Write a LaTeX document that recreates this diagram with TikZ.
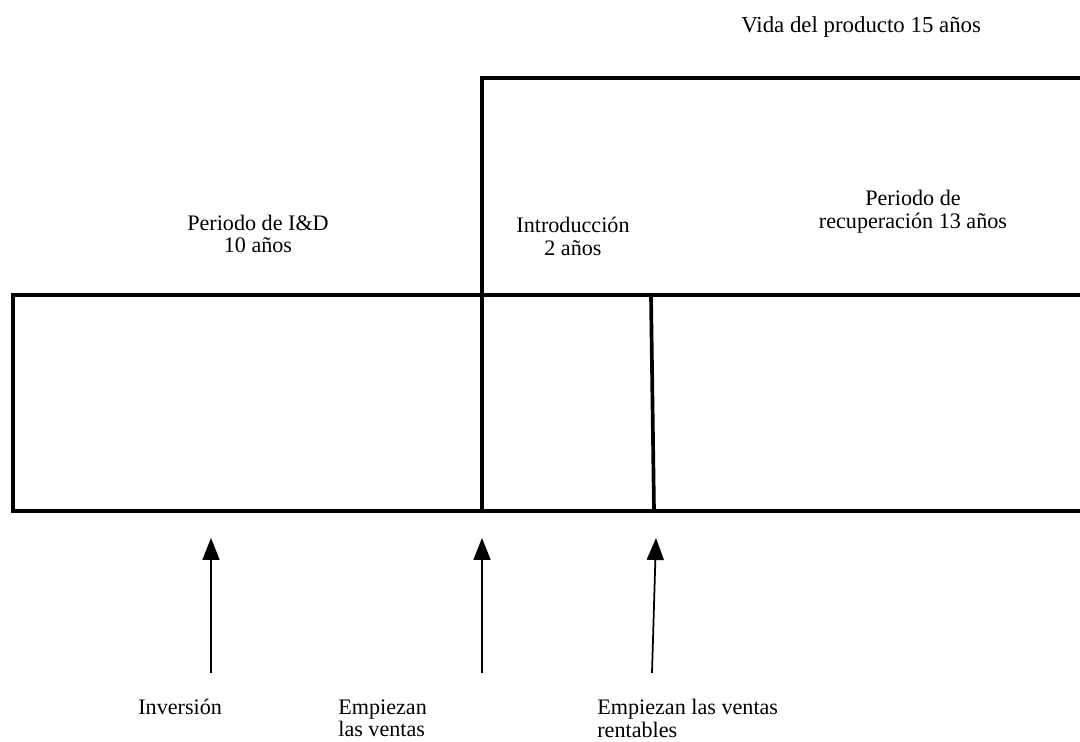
\documentclass[tikz,border=0pt]{standalone}
\usepackage{fontspec}
\setmainfont{Liberation Serif}
\usetikzlibrary{positioning,arrows.meta}
\tikzset{
	frameline/.style={line width=2.1pt},
	upArrow/.style={line width=1pt,-{Triangle[length=0.44cm,width=0.34cm]}},
	lbl/.style={inner sep=0,font=\fontsize{12.6}{13}\selectfont,align=center},
	lblleft/.style={lbl,align=left,anchor=north west}
}
\begin{document}
\begin{tikzpicture}[x=0.02cm,y=-0.02cm]
		\useasboundingbox (0,0) rectangle (1080,742);			% Rahmen wie Vorlage
		\coordinate (tl) at (13,295);							% Kasten oben links
		\coordinate (bl) at (13,511);							% Kasten unten links
		\coordinate (tr) at (1080,295);
		\coordinate (br) at (1080,511);
		\coordinate (vtop) at (482,78);							% Produktleben oben
		\coordinate (vend) at (1080,78);
		\coordinate (vbot) at (482,511);
		\coordinate (rtop) at (651,295);						% Beginn rentable Verkaeufe
		\coordinate (rbot) at (654,511);
		\coordinate (inv-s) at (211,673);						% Pfeile
		\coordinate (inv-e) at (211,538);
		\coordinate (emp-s) at (482,673);
		\coordinate (emp-e) at (482,538);
		\coordinate (ren-s) at (652,673);
		\coordinate (ren-e) at (656,538);
		
		\node[lblleft,font=\fontsize{13}{13.2}\selectfont] (vida) at (741,16) {Vida del producto 15 años};
		\node[lbl] (id) at (258,234) {Periodo de I\&D\\10 años};
		\node[lbl] (intro) at (573,236) {Introducción\\2 años};
		\node[lbl] (recup) at (913,212) {Periodo de\\recuperación 13 años};
		\node[lblleft] (inv) at (138,699) {Inversión};
		\node[lblleft] (emp) at (338,699) {Empiezan\\las ventas};
		\node[lblleft] (ren) at (597,699) {Empiezan las ventas\\rentables};
		
		% Kasten
		\draw[frameline] (tr) -- (tl) -- (bl) -- (br);
		\draw[frameline] (vend) -- (vtop) -- (vbot);
		\draw[frameline] (rtop) -- (rbot);
		
		% Pfeile
		\draw[upArrow] (inv-s) -- (inv-e);
		\draw[upArrow] (emp-s) -- (emp-e);
		\draw[upArrow] (ren-s) -- (ren-e);
\end{tikzpicture}
\end{document}
